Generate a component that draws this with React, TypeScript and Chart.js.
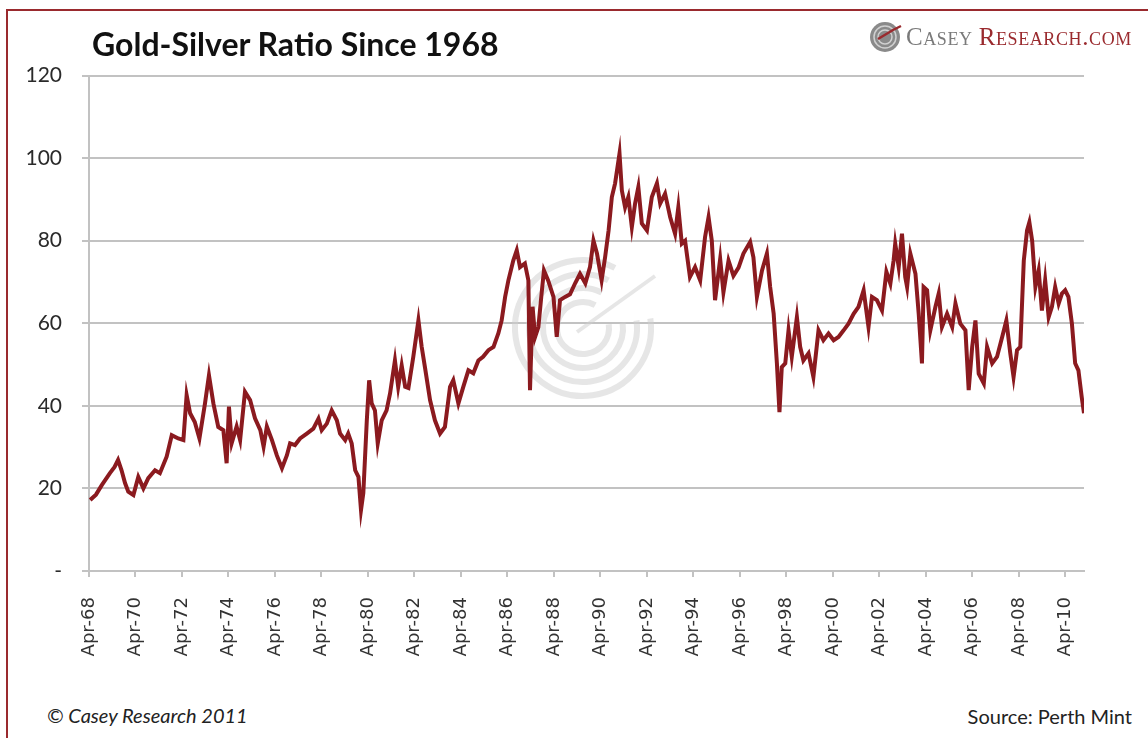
import React, { useEffect, useRef } from "react";
import { Chart, registerables } from "chart.js";

Chart.register(...registerables);

// Decimal-year dates of the readings and the gold/silver ratio at each
const years = [
  1968.30, 1968.55, 1968.80, 1969.15, 1969.35, 1969.50, 1969.65, 1969.80, 1969.94, 1970.16,
  1970.37, 1970.59, 1970.80, 1971.09, 1971.30, 1971.59, 1971.81, 1972.09, 1972.31, 1972.45,
  1972.60, 1972.80, 1973.00, 1973.24, 1973.41, 1973.60, 1973.81, 1974.03, 1974.17, 1974.27,
  1974.39, 1974.60, 1974.75, 1974.96, 1975.18, 1975.39, 1975.62, 1975.76, 1975.90, 1976.12,
  1976.33, 1976.55, 1976.76, 1976.90, 1977.11, 1977.33, 1977.62, 1977.90, 1978.12, 1978.26,
  1978.48, 1978.69, 1978.91, 1979.05, 1979.27, 1979.40, 1979.55, 1979.70, 1979.84, 1979.95,
  1980.05, 1980.20, 1980.30, 1980.41, 1980.55, 1980.67, 1980.84, 1981.05, 1981.20, 1981.41,
  1981.55, 1981.70, 1981.85, 1981.99, 1982.20, 1982.42, 1982.56, 1982.70, 1982.92, 1983.13,
  1983.35, 1983.56, 1983.78, 1983.92, 1984.14, 1984.35, 1984.57, 1984.78, 1985.00, 1985.20,
  1985.43, 1985.65, 1985.86, 1986.00, 1986.15, 1986.29, 1986.50, 1986.65, 1986.79, 1987.00,
  1987.15, 1987.22, 1987.33, 1987.44, 1987.58, 1987.72, 1987.82, 1988.00, 1988.23, 1988.37,
  1988.51, 1988.73, 1988.94, 1989.16, 1989.37, 1989.60, 1989.80, 1989.95, 1990.10, 1990.30,
  1990.45, 1990.60, 1990.74, 1990.88, 1991.07, 1991.17, 1991.31, 1991.45, 1991.60, 1991.74,
  1991.88, 1992.03, 1992.25, 1992.46, 1992.68, 1992.82, 1993.03, 1993.25, 1993.46, 1993.60,
  1993.75, 1993.89, 1994.10, 1994.32, 1994.54, 1994.75, 1994.90, 1995.04, 1995.18, 1995.40,
  1995.54, 1995.76, 1995.97, 1996.19, 1996.40, 1996.69, 1996.83, 1996.98, 1997.20, 1997.41,
  1997.55, 1997.70, 1997.84, 1997.95, 1998.05, 1998.20, 1998.34, 1998.48, 1998.70, 1998.84,
  1998.98, 1999.20, 1999.41, 1999.63, 1999.84, 2000.06, 2000.28, 2000.49, 2000.71, 2000.92,
  2001.14, 2001.35, 2001.57, 2001.78, 2001.93, 2002.14, 2002.36, 2002.55, 2002.72, 2002.86,
  2002.93, 2003.08, 2003.22, 2003.36, 2003.44, 2003.58, 2003.80, 2003.94, 2004.08, 2004.15,
  2004.30, 2004.44, 2004.66, 2004.80, 2004.94, 2005.16, 2005.38, 2005.52, 2005.73, 2005.95,
  2006.09, 2006.24, 2006.38, 2006.52, 2006.74, 2006.88, 2007.10, 2007.31, 2007.53, 2007.71,
  2007.88, 2008.02, 2008.17, 2008.31, 2008.46, 2008.60, 2008.70, 2008.82, 2008.96, 2009.10,
  2009.24, 2009.38, 2009.53, 2009.67, 2009.81, 2009.96, 2010.10, 2010.24, 2010.38, 2010.53,
  2010.67, 2010.81, 2010.95, 2011.05,
];

const ratios = [
  17.2, 18.5, 20.8, 23.7, 25.2, 26.9, 24.4, 21.3, 19.2, 18.4,
  22.8, 20.0, 22.5, 24.4, 23.7, 27.7, 32.9, 32.1, 31.7, 42.6,
  38.2, 36.1, 32.1, 40.6, 47.4, 40.6, 34.9, 34.1, 26.1, 39.8,
  31.0, 35.0, 31.7, 43.4, 41.4, 37.0, 34.1, 30.1, 35.0, 31.7,
  28.0, 24.9, 28.0, 30.9, 30.5, 32.1, 33.3, 34.5, 36.9, 34.1,
  35.7, 38.9, 36.5, 33.3, 31.7, 33.3, 30.9, 24.4, 22.8, 14.8,
  18.9, 36.5, 46.2, 40.6, 38.9, 30.9, 36.5, 38.9, 43.0, 51.0,
  44.6, 49.8, 44.6, 44.3, 51.9, 60.7, 54.3, 49.4, 41.4, 36.5,
  33.3, 34.9, 44.6, 46.2, 40.6, 44.6, 48.6, 47.9, 51.0, 51.9,
  53.5, 54.3, 57.6, 60.7, 66.4, 70.4, 75.2, 77.7, 73.6, 74.5,
  70.4, 43.8, 64.0, 56.7, 59.1, 67.3, 72.8, 70.4, 66.4, 56.7,
  65.6, 66.4, 67.0, 69.7, 72.0, 69.7, 73.6, 80.0, 76.9, 70.4,
  76.0, 82.5, 90.6, 93.9, 101.1, 92.2, 88.1, 90.6, 83.3, 89.0,
  93.0, 84.2, 82.5, 90.6, 93.9, 89.0, 91.4, 85.7, 81.7, 88.1,
  79.3, 80.0, 71.2, 73.6, 70.4, 80.9, 85.7, 80.0, 65.6, 75.6,
  67.5, 75.2, 71.5, 73.5, 76.9, 79.7, 76.0, 66.4, 72.8, 76.9,
  68.8, 62.4, 50.3, 38.5, 49.4, 50.3, 58.3, 51.9, 61.5, 54.3,
  51.0, 52.7, 47.0, 58.3, 55.9, 57.5, 55.9, 56.7, 58.3, 59.9,
  62.3, 64.0, 68.0, 59.1, 66.4, 65.6, 63.1, 72.5, 69.6, 75.2,
  79.3, 73.6, 81.7, 71.2, 68.8, 76.9, 72.0, 62.3, 50.3, 68.8,
  68.0, 58.3, 64.0, 67.2, 59.1, 62.3, 59.1, 64.8, 59.9, 58.3,
  43.8, 54.3, 60.7, 47.8, 45.4, 54.3, 50.3, 51.9, 56.7, 60.7,
  52.7, 47.0, 53.5, 54.3, 75.2, 82.5, 84.5, 80.0, 68.8, 72.8,
  63.1, 70.4, 61.5, 64.0, 68.8, 64.8, 67.2, 68.0, 66.4, 59.9,
  50.3, 48.6, 42.2, 38.2,
];

const tickYears = [
  1968.25, 1970.25, 1972.25, 1974.25, 1976.25, 1978.25, 1980.25, 1982.25,
  1984.25, 1986.25, 1988.25, 1990.25, 1992.25, 1994.25, 1996.25, 1998.25,
  2000.25, 2002.25, 2004.25, 2006.25, 2008.25, 2010.25,
];
const tickLabels = [
  "Apr-68", "Apr-70", "Apr-72", "Apr-74", "Apr-76", "Apr-78", "Apr-80", "Apr-82",
  "Apr-84", "Apr-86", "Apr-88", "Apr-90", "Apr-92", "Apr-94", "Apr-96", "Apr-98",
  "Apr-00", "Apr-02", "Apr-04", "Apr-06", "Apr-08", "Apr-10",
];
const yTicks = [0, 20, 40, 60, 80, 100, 120];

const TITLE = "Gold-Silver Ratio Since 1968";
const FOOT_LEFT = "© Casey Research 2011";
const FOOT_RIGHT = "Source: Perth Mint";

const GRID = "#c2c2c2";
const LINE = "#8b1a1f";

export default function App() {
  const ref = useRef<HTMLCanvasElement>(null);

  useEffect(() => {
    const canvas = ref.current;
    if (!canvas) return;

    const watermark = {
      id: "watermark",
      beforeDatasetsDraw(chart: any) {
        const { ctx } = chart;
        const cx = 583;
        const cy = 328 - 43;
        ctx.save();
        ctx.strokeStyle = "rgba(205,205,205,0.5)";
        ctx.lineWidth = 6;
        const radii = [68, 54, 40, 26];
        radii.forEach((r) => {
          ctx.beginPath();
          ctx.arc(cx, cy, r, (-8 * Math.PI) / 180, (298 * Math.PI) / 180);
          ctx.stroke();
        });
        ctx.lineWidth = 4;
        ctx.beginPath();
        ctx.moveTo(cx - 6, cy + 4);
        ctx.lineTo(cx + 72, cy - 52);
        ctx.stroke();
        ctx.restore();
      },
    };

    const chart = new Chart(canvas, {
      type: "line",
      data: {
        datasets: [
          {
            data: years.map((x, i) => ({ x, y: ratios[i] })),
            borderColor: LINE,
            borderWidth: 4,
            pointRadius: 0,
            tension: 0,
            fill: false,
          },
        ],
      },
      options: {
        responsive: false,
        animation: false,
        devicePixelRatio: 1,
        layout: { padding: { top: 15, right: 64, left: 0, bottom: 0 } },
        plugins: {
          legend: { display: false },
          tooltip: { enabled: false },
          title: { display: false },
        },
        scales: {
          x: {
            type: "linear",
            min: 1968.25,
            max: 2011.05,
            afterBuildTicks: (s: any) => {
              s.ticks = tickYears.map((v) => ({ value: v }));
            },
            afterFit: (s: any) => {
              s.height = 109;
            },
            ticks: {
              autoSkip: false,
              maxRotation: 90,
              minRotation: 90,
              padding: 20,
              color: "#333",
              font: { family: "DejaVu Sans", size: 18 },
              callback: (_v: any, i: number) => tickLabels[i],
            },
            grid: {
              display: true,
              drawOnChartArea: false,
              drawTicks: true,
              tickLength: 6,
              color: GRID,
              lineWidth: 2,
            },
            border: { display: true, color: GRID, width: 2 },
          },
          y: {
            min: 0,
            max: 120,
            afterBuildTicks: (s: any) => {
              s.ticks = yTicks.map((v) => ({ value: v }));
            },
            afterFit: (s: any) => {
              s.width = 89;
            },
            ticks: {
              padding: 20,
              color: "#2a2a2a",
              font: { family: "Lato", size: 21 },
              callback: (v: any) => (v === 0 ? "-" : String(v)),
            },
            grid: { color: GRID, lineWidth: 2, tickLength: 7 },
            border: { display: true, color: GRID, width: 2 },
          },
        },
      },
      plugins: [watermark],
    });

    return () => chart.destroy();
  }, []);

  return (
    <div
      style={{
        position: "absolute",
        left: 0,
        top: 0,
        width: 1148,
        height: 738,
        background: "#fff",
        overflow: "hidden",
      }}
    >
      <div
        style={{
          position: "absolute",
          left: 6,
          top: 9,
          width: 1160,
          height: 760,
          borderLeft: "2px solid #9a2a2e",
          borderTop: "2px solid #9a2a2e",
        }}
      />
      <canvas
        ref={ref}
        width={1148}
        height={637}
        style={{ position: "absolute", left: 0, top: 43, width: 1148, height: 637 }}
      />
      <div
        style={{
          position: "absolute",
          left: 92,
          top: 24,
          fontFamily: "Lato",
          fontWeight: 700,
          fontSize: 32,
          lineHeight: "40px",
          color: "#111",
          whiteSpace: "nowrap",
        }}
      >
        {TITLE}
      </div>
      <div
        style={{
          position: "absolute",
          left: 868,
          top: 20,
          display: "flex",
          alignItems: "center",
          whiteSpace: "nowrap",
        }}
      >
        <svg width="36" height="34" viewBox="0 0 36 34">
          <circle cx="17" cy="17" r="15" fill="#8a8a8a" />
          <circle cx="17" cy="17" r="11" fill="none" stroke="#d0d0d0" strokeWidth="1.5" />
          <circle cx="17" cy="17" r="7" fill="none" stroke="#d0d0d0" strokeWidth="1.5" />
          <path d="M10 19 L25 10 L33 6" stroke="#9a2a2e" strokeWidth="2.5" fill="none" />
        </svg>
        <span
          style={{
            fontFamily: "Liberation Serif",
            fontVariant: "small-caps",
            fontSize: 25,
            letterSpacing: 0.6,
            color: "#7a7a7a",
            marginLeft: 2,
          }}
        >
          Casey
        </span>
        <span
          style={{
            fontFamily: "Liberation Serif",
            fontVariant: "small-caps",
            fontSize: 25,
            letterSpacing: 0.6,
            color: "#9a2a2e",
            marginLeft: 6,
          }}
        >
          Research.com
        </span>
      </div>
      <div
        style={{
          position: "absolute",
          left: 47,
          top: 703,
          fontFamily: "Lato",
          fontStyle: "italic",
          fontSize: 20,
          color: "#222",
          whiteSpace: "nowrap",
        }}
      >
        {FOOT_LEFT}
      </div>
      <div
        style={{
          position: "absolute",
          right: 16,
          top: 704,
          fontFamily: "Lato",
          fontSize: 20,
          color: "#222",
          whiteSpace: "nowrap",
        }}
      >
        {FOOT_RIGHT}
      </div>
    </div>
  );
}
